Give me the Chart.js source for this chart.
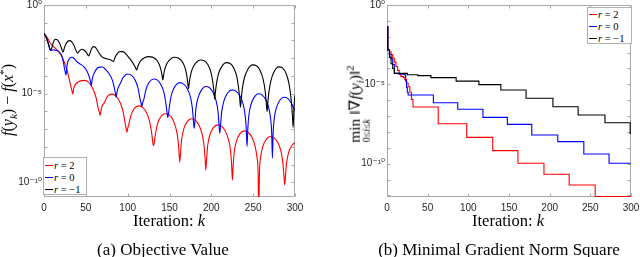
<!DOCTYPE html>
<html><head><meta charset="utf-8">
<script src="https://cdn.jsdelivr.net/npm/chart.js@4.4.1/dist/chart.umd.min.js"></script>
<style>
html,body{margin:0;padding:0;background:#fff;}
body{width:640px;height:257px;position:relative;overflow:hidden;font-family:"Liberation Serif","DejaVu Serif",serif;color:#000;}
.pane{position:absolute;top:0;width:320px;height:257px;}
.lbl{position:absolute;white-space:nowrap;line-height:1;}
.ytitle{transform:translate(-50%,-50%) rotate(-90deg);font-size:16px;}
.xtitle{transform:translate(-50%,-50%);font-size:16.5px;}
.cap{transform:translate(-50%,-50%);font-size:17px;}
sub,sup{font-size:70%;line-height:0;}
.op{display:inline-flex;flex-direction:column;align-items:center;line-height:1;vertical-align:baseline;}
.op .u{font-size:65%;margin-top:-1px;}
.legend{position:absolute;background:#fff;border:1px solid #b0b0b0;font-size:10.5px;box-sizing:border-box;padding:0 2px 0 1px;}
.legend div{height:12px;display:flex;align-items:center;white-space:nowrap;}
.legend .sw{display:inline-block;width:8px;height:0;border-top:1.2px solid;margin-right:1px;}
</style></head>
<body>
<div class="pane" style="left:0"><canvas id="c1"></canvas></div>
<div class="pane" style="left:320px"><canvas id="c2"></canvas></div>

<div class="lbl ytitle" style="left:8px;top:100px;"><i>f</i>(<i>y<sub>k</sub></i>) − <i>f</i>(<i>x</i><sup>*</sup>)</div>
<div class="lbl ytitle" style="left:359px;top:104px;font-size:15.5px;"><span class="op"><span>min</span><span class="u">0≤<i>i</i>≤<i>k</i></span></span> ‖∇<i>f</i>(<i>y<sub>i</sub></i>)‖<sup>2</sup></div>
<div class="lbl xtitle" style="left:169px;top:221px;">Iteration: <i>k</i></div>
<div class="lbl xtitle" style="left:508px;top:221px;">Iteration: <i>k</i></div>
<div class="lbl cap" style="left:163px;top:249px;">(a) Objective Value</div>
<div class="lbl cap" style="left:499px;top:249px;">(b) Minimal Gradient Norm Square</div>

<div class="legend" style="left:43px;top:157px;width:44px;height:38px;padding-top:1px;">
  <div><span class="sw" style="border-color:#ff0000"></span><i>r</i>&nbsp;=&nbsp;2</div>
  <div><span class="sw" style="border-color:#0000ff"></span><i>r</i>&nbsp;=&nbsp;0</div>
  <div><span class="sw" style="border-color:#000000"></span><i>r</i>&nbsp;=&nbsp;−1</div>
</div>
<div class="legend" style="left:587px;top:7px;width:45px;height:37px;">
  <div><span class="sw" style="border-color:#ff0000"></span><i>r</i>&nbsp;=&nbsp;2</div>
  <div><span class="sw" style="border-color:#0000ff"></span><i>r</i>&nbsp;=&nbsp;0</div>
  <div><span class="sw" style="border-color:#000000"></span><i>r</i>&nbsp;=&nbsp;−1</div>
</div>

<script>
// ---------- data (values are log10 of the plotted quantity) ----------
const seriesLabels = ['r = 2', 'r = 0', 'r = −1'];
const seriesColors = ['#ff0000', '#0000ff', '#000000'];

// (a) Objective value f(y_k) - f(x*)
const objK_r2 = [0,2,4,7.5,11,13.5,17.5,21.5,25.4,28,29.4,31,32.2,33.3,34.4,
  35.4,36.7,39.3,43.6,49.2,54.1,58.3,62.3,64.9,66.2,67.2,
  68.2,69.4,72,76.1,81.6,86.3,90.5,94.3,96.9,98.1,99.1,
  100.1,101.3,103.9,108,113.4,118.2,122.3,126.1,128.7,129.9,130.9,
  131.8,133.1,135.6,139.7,145,149.7,153.8,157.6,160.1,161.4,162.3,
  163.2,164.5,167,171,176.3,181,185,188.7,191.2,192.5,193.4,
  194.4,195.6,198.2,202.3,207.7,212.5,216.6,220.4,223,224.2,225.2,
  226.1,227.4,229.9,234,239.4,244.1,248.2,252,254.5,255.8,256.7,
  257.6,258.9,261.3,265.4,270.7,275.3,279.3,283.1,285.5,286.8,287.7,
  288.6,289.9,292.3,296.4,300];
const objLog_r2 = [-1.6,-1.72,-1.85,-2.16,-2.33,-2.44,-2.63,-2.91,-3.38,-3.75,-4.04,-4.35,-4.6,-4.82,-5.03,
  -4.73,-4.55,-4.4,-4.28,-4.25,-4.4,-4.71,-5.24,-5.85,-6.05,-6.22,
  -5.95,-5.7,-5.52,-5.14,-5.03,-5.16,-5.45,-5.96,-6.65,-6.95,-7.17,
  -6.95,-6.75,-6.23,-5.83,-5.69,-5.79,-6.05,-6.55,-7.21,-7.7,-7.94,
  -7.75,-7.32,-6.72,-6.29,-6.13,-6.2,-6.45,-6.93,-7.58,-8.32,-8.85,
  -8.32,-7.6,-7,-6.59,-6.42,-6.51,-6.76,-7.24,-7.9,-8.64,-9.3,
  -8.66,-7.94,-7.34,-6.93,-6.76,-6.85,-7.1,-7.58,-8.24,-8.98,-9.88,
  -9.01,-8.29,-7.69,-7.27,-7.1,-7.19,-7.43,-7.91,-8.57,-9.31,-11.5,
  -9.33,-8.61,-8.01,-7.59,-7.42,-7.51,-7.75,-8.23,-8.89,-9.63,-10.15,
  -9.65,-8.93,-8.33,-7.91,-7.76];

const objK_r0 = [0,2,4,6,7.5,9,11,13,15.5,17.5,19.5,21.5,23.4,25,26.3,
  27.3,28.5,30.5,33,36,39,42,45,48,51,53.5,55.3,56.5,
  57.4,58.6,61,64.8,69.9,74.4,78.3,81.8,84.2,85.4,86.3,
  87.2,88.4,90.9,94.9,100.1,104.7,108.7,112.4,114.8,116.1,117,
  117.9,119.2,121.7,125.7,131,135.6,139.6,143.4,145.8,147.1,148,
  148.9,150.2,152.7,156.8,162.2,166.9,171,174.8,177.3,178.6,179.5,
  180.4,181.6,184.1,188.1,193.3,197.9,201.8,205.5,208,209.2,210.1,
  211.1,212.4,215,219.2,224.8,229.7,233.9,237.8,240.4,241.7,242.7,
  243.6,244.8,247.2,251.2,256.3,260.9,264.8,268.5,270.9,272.1,273,
  273.9,275.1,277.6,281.5,286.7,291.3,295.3,298.9,300];
const objLog_r0 = [-1.6,-1.75,-1.95,-2.35,-2.55,-2.56,-2.52,-2.55,-2.57,-2.62,-2.72,-2.9,-3.3,-3.7,-3.94,
  -3.5,-3.2,-3.02,-2.95,-3.02,-3.18,-3.3,-3.38,-3.5,-3.7,-3.98,-4.25,-4.56,
  -4.25,-4.0,-3.75,-3.52,-3.5,-3.68,-3.92,-4.25,-4.7,-4.98,-5.2,
  -4.95,-4.7,-4.45,-4.07,-3.89,-3.97,-4.21,-4.69,-5.3,-5.55,-5.73,
  -5.5,-5.35,-4.8,-4.36,-4.17,-4.24,-4.48,-4.94,-5.59,-6.1,-6.35,
  -6.1,-5.62,-5,-4.57,-4.38,-4.46,-4.69,-5.16,-5.81,-6.54,-6.95,
  -6.57,-5.84,-5.23,-4.8,-4.6,-4.67,-4.91,-5.37,-6.02,-6.75,-7.23,
  -6.75,-6.03,-5.42,-4.98,-4.79,-4.87,-5.1,-5.56,-6.21,-6.95,-7.98,
  -6.98,-6.25,-5.64,-5.21,-5.01,-5.08,-5.32,-5.78,-6.43,-7.16,-8.64,
  -7.17,-6.44,-5.83,-5.4,-5.2,-5.27,-5.51,-5.85,-5.95];

const objK_rm1 = [0,2,4,6,8,9.5,11,13.5,16,18.5,21,22.7,24.5,27,30.5,33,36,38.5,40.2,42,
  45.4,48,51,53.3,55,57,59.5,62,65,68,71,74,77,80,83,85,88,91,94,97,100,103,106,108.5,111,
  111.9,113.2,115.7,119.7,125,129.6,133.6,137.4,139.8,141.1,142,
  142.9,144.1,146.6,150.6,155.8,160.4,164.4,168.1,170.6,171.8,172.7,
  173.6,174.9,177.4,181.5,186.8,191.5,195.6,199.3,201.8,203.1,204,
  204.9,206.2,208.6,212.6,217.9,222.5,226.5,230.2,232.6,233.9,234.8,
  235.8,237,239.6,243.7,249.1,253.9,258,261.8,264.4,265.6,266.6,
  267.5,268.8,271.3,275.3,280.6,285.3,289.4,293.1,295.6,296.9,297.8,299,300];
const objLog_rm1 = [-1.6,-1.78,-2.02,-2.3,-2.54,-2.4,-2.12,-1.93,-1.97,-2.15,-2.45,-2.66,-2.4,-2.12,-2.01,-2.06,-2.3,-2.6,-2.72,-2.6,
  -2.5,-2.55,-2.7,-2.87,-2.7,-2.45,-2.35,-2.42,-2.65,-2.85,-2.97,-3.02,-3.06,-3.1,-3.19,-2.95,-2.72,-2.63,-2.63,-2.72,-2.88,-3.05,-3.25,-3.45,-3.66,
  -3.51,-3.34,-3.14,-2.99,-2.91,-2.94,-3.06,-3.31,-3.66,-3.97,-4.23,
  -3.97,-3.68,-3.33,-3.08,-2.95,-2.99,-3.14,-3.48,-3.96,-4.37,-4.72,
  -4.4,-4.02,-3.59,-3.26,-3.1,-3.14,-3.34,-3.76,-4.36,-4.87,-5.31,
  -4.9,-4.42,-3.87,-3.46,-3.25,-3.3,-3.53,-4.0,-4.68,-5.26,-5.76,
  -5.28,-4.74,-4.09,-3.62,-3.38,-3.43,-3.67,-4.17,-4.88,-5.48,-6.01,
  -5.51,-4.93,-4.25,-3.74,-3.49,-3.56,-3.86,-4.51,-5.43,-6.22,-6.9,-5.6,-5.1];

// (b) Minimal gradient norm square, min_{0<=i<=k} ||grad f(y_i)||^2 (value changes at listed k)
const gradK_r2 = [0,1,3,5,7,9,11,13,15,17,20,22,24,26,28,30,32,63,98,130,161,193,224,256,300];
const gradLog_r2 = [-1.37,-2.84,-2.95,-3.12,-3.35,-3.6,-3.88,-4.12,-4.35,-4.5,-4.56,-4.7,-4.92,-5.15,-5.5,-5.95,-6.43,-7.48,-8.34,-9.18,-9.97,-10.67,-11.34,-12.07,-12.07];
const gradK_r0 = [0,1,3,5,7,9,15,22,23,24,25,26,57,87,118,148,178,210,242,273,300];
const gradLog_r0 = [-1.37,-2.84,-3.1,-3.4,-3.75,-4.31,-4.36,-4.41,-4.8,-5.2,-5.5,-5.67,-6.16,-6.57,-7.08,-7.52,-8.19,-8.61,-9.39,-9.97,-9.97];
const gradK_rm1 = [0,1,3,5,7,9,25,38,54,85,113,140,171,204,235,268,299,300];
const gradLog_rm1 = [-1.37,-2.84,-3.3,-3.7,-4.0,-4.31,-4.4,-4.45,-4.58,-4.8,-5.02,-5.36,-5.88,-6.41,-6.93,-7.42,-8.09,-8.09];

// axes
const iterTicks = [0,50,100,150,200,250,300];
const yTickExpsA = [0,-1,-2,-3,-4,-5,-6,-7,-8,-9,-10];
const yTickExpsB = [0,-1,-2,-3,-4,-5,-6,-7,-8,-9,-10,-11,-12];
const yLabelExps = [0,-5,-10];
const yLabelTexts = ['10⁰','10⁻⁵','10⁻¹⁰'];
const yMinExpA = -10.83, yMinExpB = -12.1;

// ---------- chart ----------
const tickFont = {family:'"Liberation Sans","DejaVu Sans",sans-serif', size:10};
const frameColor = '#a8a8a8';

const framePlugin = {
  id:'frame',
  beforeDatasetsDraw(chart){
    const {ctx, chartArea:a, scales} = chart;
    const x = scales.x, y = scales.y;
    ctx.save();
    ctx.strokeStyle = frameColor; ctx.lineWidth = 1;
    ctx.beginPath();
    const L = Math.round(a.left)+0.5, R = Math.round(a.right)-0.5, T = Math.round(a.top)+0.5, B = Math.round(a.bottom)-0.5;
    x.ticks.forEach(t => {
      const px = Math.round(x.getPixelForValue(t.value))+0.5;
      ctx.moveTo(px,B); ctx.lineTo(px,B-3);
      ctx.moveTo(px,T); ctx.lineTo(px,T+3);
    });
    y.ticks.forEach(t => {
      const py = Math.round(y.getPixelForValue(t.value))+0.5;
      ctx.moveTo(L,py); ctx.lineTo(L+3,py);
      ctx.moveTo(R,py); ctx.lineTo(R-3,py);
    });
    ctx.stroke();
    ctx.strokeRect(L, T, R-L, B-T);
    ctx.restore();
  }
};

function makeChart(id, ks, logs, yMinExp, tickExps, padRight, yWidth, stepped){
  const orders = [2,1,0];
  const datasets = ks.map((kArr, s) => ({
    label: seriesLabels[s],
    data: kArr.map((k,i) => ({x:k, y:Math.pow(10, logs[s][i])})),
    borderColor: seriesColors[s],
    borderWidth: 1.1,
    pointRadius: 0,
    fill: false,
    order: orders[s],
    tension: 0,
    cubicInterpolationMode: stepped ? 'default' : 'monotone',
    stepped: stepped ? 'before' : false
  }));
  return new Chart(document.getElementById(id), {
    type:'line',
    data:{datasets},
    options:{
      responsive:true, maintainAspectRatio:false, animation:false, events:[],
      devicePixelRatio:1,
      layout:{padding:{left:0, right:padRight, top:5, bottom:20}},
      plugins:{legend:{display:false}, tooltip:{enabled:false}},
      scales:{
        x:{type:'linear', min:0, max:300,
          grid:{display:false, drawTicks:false}, border:{display:false},
          afterBuildTicks: sc => { sc.ticks = iterTicks.map(v => ({value:v})); },
          afterFit: sc => { sc.height = 40; sc.paddingLeft = 0; sc.paddingRight = 0; },
          ticks:{autoSkip:false, maxRotation:0, padding:5, color:'#262626', font:tickFont}
        },
        y:{type:'logarithmic', min:Math.pow(10, yMinExp), max:1,
          grid:{display:false, drawTicks:false}, border:{display:false},
          afterBuildTicks: sc => { sc.ticks = tickExps.map(e => ({value:Math.pow(10, e)})); },
          afterFit: sc => { sc.width = yWidth; sc.paddingTop = 0; sc.paddingBottom = 0; },
          ticks:{autoSkip:false, padding:2, color:'#262626', font:tickFont,
            callback: v => { const e = Math.round(Math.log10(v)); const i = yLabelExps.indexOf(e); return i >= 0 ? yLabelTexts[i] : ''; }
          }
        }
      }
    },
    plugins:[framePlugin]
  });
}

makeChart('c1', [objK_r2, objK_r0, objK_rm1], [objLog_r2, objLog_r0, objLog_rm1], yMinExpA, yTickExpsA, 25, 44, false);
makeChart('c2', [gradK_r2, gradK_r0, gradK_rm1], [gradLog_r2, gradLog_r0, gradLog_rm1], yMinExpB, yTickExpsB, 9, 67, true);
</script>
</body></html>
